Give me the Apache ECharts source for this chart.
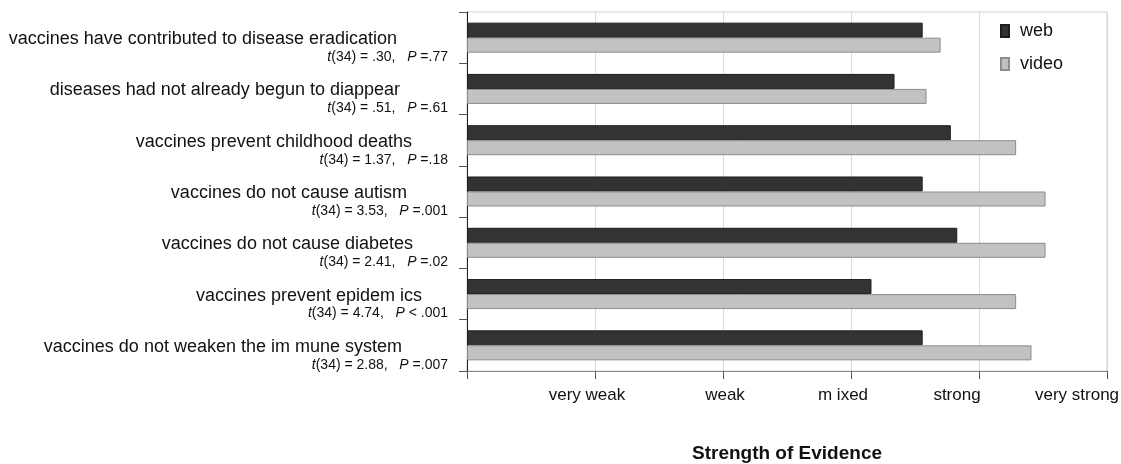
<!DOCTYPE html>
<html><head><meta charset="utf-8">
<script src="https://cdn.jsdelivr.net/npm/echarts@6/dist/echarts.min.js"></script>
<style>html,body{margin:0;padding:0;background:#fff}#c{width:1121px;height:464px}</style>
</head><body><div id="c"></div>
<script>
const categories = [
  'vaccines have contributed to disease eradication',
  'diseases had not already begun to diappear',
  'vaccines prevent childhood deaths',
  'vaccines do not cause autism',
  'vaccines do not cause diabetes',
  'vaccines prevent epidem ics',
  'vaccines do not weaken the im mune system'
];
const tStats = ['.30', '.51', '1.37', '3.53', '2.41', '4.74', '2.88'];
const pStats = ['=.77', '=.61', '=.18', '=.001', '=.02', '< .001', '=.007'];
const webValues = [3.56, 3.34, 3.78, 3.56, 3.83, 3.16, 3.56];
const videoValues = [3.70, 3.59, 4.29, 4.52, 4.52, 4.29, 4.41];
const tickLabels = ['', 'very weak', 'weak', 'm ixed', 'strong', 'very strong'];
const seriesNames = ['web', 'video'];

// label styling (right padding of each category name line; tick label shifts)
const namePad = [51, 48, 36, 41, 35, 26, 46];
const tickPad = [[0,0,0,0],[0,16,0,0],[0,0,0,4],[0,16,0,0],[0,44,0,0],[0,60,0,0]];

const FONT = '"Liberation Sans", Arial, Helvetica, sans-serif';
const yRich = {
  it: {fontFamily: FONT, fontSize: 14, fontStyle: 'italic', align: 'right', lineHeight: 18, color: '#111'},
  st: {fontFamily: FONT, fontSize: 14, align: 'right', lineHeight: 18, color: '#111'}
};
categories.forEach((c, i) => {
  yRich['n' + i] = {fontFamily: FONT, fontSize: 18, align: 'right', lineHeight: 18,
    padding: [0, namePad[i], 0, 0], color: '#111'};
});
const xRich = {};
tickLabels.forEach((t, i) => {
  xRich['L' + i] = {fontFamily: FONT, fontSize: 17, color: '#111', padding: tickPad[i]};
});

const chart = echarts.init(document.getElementById('c'), null, {renderer: 'canvas'});
chart.setOption({
  animation: false,
  backgroundColor: '#fff',
  textStyle: {fontFamily: FONT},
  grid: {left: 467, right: 14, top: 12, bottom: 93, show: true, borderColor: '#d0d0d0', borderWidth: 1,
         outerBoundsMode: 'none', containLabel: false},
  legend: {
    data: seriesNames, orient: 'vertical', left: 995, top: 17,
    itemWidth: 8, itemHeight: 12, itemGap: 15, icon: 'rect',
    textStyle: {fontFamily: FONT, fontSize: 18, color: '#111', padding: [0, 0, 0, 6]}
  },
  xAxis: {
    type: 'value', min: 0, max: 5, interval: 1,
    axisLine: {show: true, lineStyle: {color: '#8a8a8a', width: 1}},
    axisTick: {show: true, length: 8, lineStyle: {color: '#555'}},
    splitLine: {show: true, lineStyle: {color: '#dadada', width: 1}},
    axisLabel: {
      margin: 16, rich: xRich,
      formatter: (v) => { const i = Math.round(v); return tickLabels[i] ? '{L' + i + '|' + tickLabels[i] + '}' : ''; }
    },
    name: 'Strength of Evidence', nameLocation: 'middle', nameGap: 73,
    nameTextStyle: {fontFamily: FONT, fontSize: 19, fontWeight: 'bold', color: '#111'}
  },
  yAxis: {
    type: 'category', inverse: true, data: categories,
    axisLine: {show: true, lineStyle: {color: '#222', width: 1}},
    axisTick: {show: true, length: 8, lineStyle: {color: '#555'}},
    splitLine: {show: false},
    axisLabel: {
      margin: 19, padding: [21, 0, 0, 0], rich: yRich,
      formatter: (v, i) => '{n' + i + '|' + v + '}\n{it|t}{st|(34) = ' + tStats[i] + ',   }{it|P}{st| ' + pStats[i] + '}'
    }
  },
  series: [
    {name: seriesNames[0], type: 'bar', data: webValues, barWidth: 15, barGap: '0%',
     itemStyle: {color: '#333333', borderColor: '#1c1c1c', borderWidth: 1}},
    {name: seriesNames[1], type: 'bar', data: videoValues, barWidth: 15, barGap: '0%',
     itemStyle: {color: '#c2c2c2', borderColor: '#8c8c8c', borderWidth: 1}}
  ]
});
</script></body></html>
